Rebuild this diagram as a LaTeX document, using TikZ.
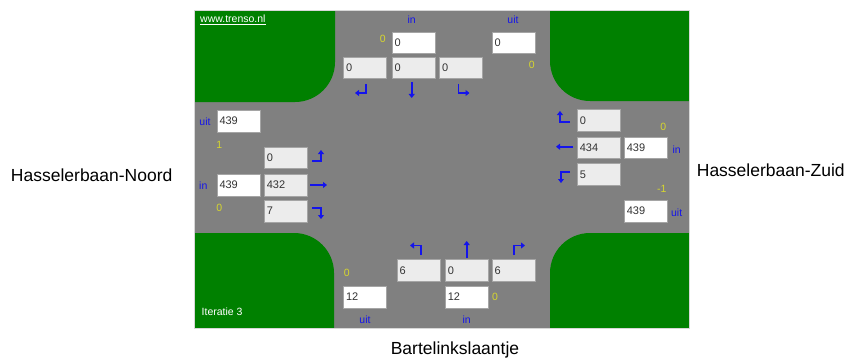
\documentclass[tikz,border=0pt]{standalone}
\usepackage{fontspec}
\setmainfont{Liberation Sans}
\usetikzlibrary{arrows.meta}
\definecolor{road}{RGB}{128,128,128}
\definecolor{grass}{RGB}{0,128,0}
\definecolor{lbl}{RGB}{20,20,235}
\definecolor{ylw}{RGB}{215,215,45}
\definecolor{boxg}{RGB}{236,236,236}
\definecolor{edge}{RGB}{165,165,165}
\definecolor{frame}{RGB}{215,215,215}
\begin{document}
\begin{tikzpicture}[x=1pt,y=-1pt,
 valbox/.style={anchor=north west, draw=edge, line width=0.6pt, inner xsep=2.5pt, inner ysep=0pt, text width=38pt, align=left, minimum height=21.5pt, font=\fontsize{11}{12}\selectfont, text=black!80},
 wbox/.style={valbox, fill=white},
 gbox/.style={valbox, fill=boxg},
 blab/.style={text=lbl, font=\fontsize{10.5}{12}\selectfont, inner sep=0pt},
 ylab/.style={text=ylw, font=\fontsize{10.5}{12}\selectfont, inner sep=0pt},
 wlab/.style={text=white, font=\fontsize{10.5}{12}\selectfont, inner sep=0pt, anchor=west},
 turn/.style={draw=lbl, line width=1.6pt, -{Triangle[length=4pt,width=6pt]}},
 street/.style={font=\fontsize{17.5}{20}\selectfont, inner sep=0pt}]
\useasboundingbox (0,0) rectangle (849,361);
% panel
\fill[road] (194,11) rectangle (689,328);
\fill[grass] (194,11) -- (335,11) -- (335,62) arc(0:90:40) -- (194,102) -- cycle;
\fill[grass] (689,11) -- (550,11) -- (550,61) arc(180:90:40) -- (689,101) -- cycle;
\fill[grass] (194,328) -- (194,233) -- (294,233) arc(270:360:40) -- (334,328) -- cycle;
\fill[grass] (689,328) -- (689,233) -- (590,233) arc(270:180:40) -- (550,328) -- cycle;
\draw[frame, line width=1pt] (194,11) rectangle (689,328);
\node[wlab] (web) at (200,20) {\underline{www.trenso.nl}};
\node[wlab] (iter) at (201.5,311.7) {Iteratie 3};
% top approach
\node[blab] (tin) at (411.7,20) {in};
\node[blab] (tuit) at (513,20) {uit};
\node[ylab] (ty1) at (382.7,39.3) {0};
\node[ylab] (ty2) at (531.7,65) {0};
\node[wbox] (tw1) at (391.7,31.7) {0};
\node[wbox] (tw2) at (491.7,31.7) {0};
\node[gbox] (tg1) at (343.3,56.7) {0};
\node[gbox] (tg2) at (391.7,56.7) {0};
\node[gbox] (tg3) at (439.3,56.7) {0};
\draw[turn] (366,84) -- (366,93) -- (355,93);
\draw[turn] (411.7,82) -- (411.7,98);
\draw[turn] (458.5,84) -- (458.5,93) -- (469.5,93);
% left approach
\node[blab] (luit) at (205,121.7) {uit};
\node[ylab] (ly1) at (219.3,145) {1};
\node[blab] (lin) at (203.3,186) {in};
\node[ylab] (ly2) at (219.3,208.3) {0};
\node[wbox] (lw1) at (216.7,110) {439};
\node[gbox] (lg1) at (264,146.7) {0};
\node[wbox] (lw2) at (216.7,174) {439};
\node[gbox] (lg2) at (264,174) {432};
\node[gbox] (lg3) at (264,200) {7};
\draw[turn] (312,161) -- (321,161) -- (321,150);
\draw[turn] (310,185) -- (327,185);
\draw[turn] (312,208) -- (321,208) -- (321,219);
% right approach
\node[ylab] (ry1) at (663.3,126.7) {0};
\node[blab] (rin) at (676.7,149.3) {in};
\node[ylab] (ry2) at (661.7,189.3) {-1};
\node[blab] (ruit) at (676.7,212.7) {uit};
\node[gbox] (rg1) at (577,109.3) {0};
\node[gbox] (rg2) at (577,136.7) {434};
\node[wbox] (rw1) at (624,136.7) {439};
\node[gbox] (rg3) at (577,163.3) {5};
\node[wbox] (rw2) at (624,200) {439};
\draw[turn] (570,122) -- (560,122) -- (560,111);
\draw[turn] (573,146.7) -- (556,146.7);
\draw[turn] (570,172) -- (561,172) -- (561,183);
% bottom approach
\node[ylab] (by1) at (346.7,273.3) {0};
\node[ylab] (by2) at (495,296.7) {0};
\node[blab] (buit) at (365,319.3) {uit};
\node[blab] (bin) at (466.7,319.3) {in};
\node[gbox] (bg1) at (396.7,259.3) {6};
\node[gbox] (bg2) at (445,259.3) {0};
\node[gbox] (bg3) at (491.7,259.3) {6};
\node[wbox] (bw1) at (343.3,286) {12};
\node[wbox] (bw2) at (445,286) {12};
\draw[turn] (421,255) -- (421,245.5) -- (410,245.5);
\draw[turn] (466.7,258) -- (466.7,241);
\draw[turn] (514,255) -- (514,245.5) -- (525,245.5);
% street names
\node[street] (noord) at (91.7,175) {Hasselerbaan-Noord};
\node[street] (zuid) at (770.8,170) {Hasselerbaan-Zuid};
\node[street] (bart) at (455,350) {Bartelinkslaantje};
\end{tikzpicture}
\end{document}
